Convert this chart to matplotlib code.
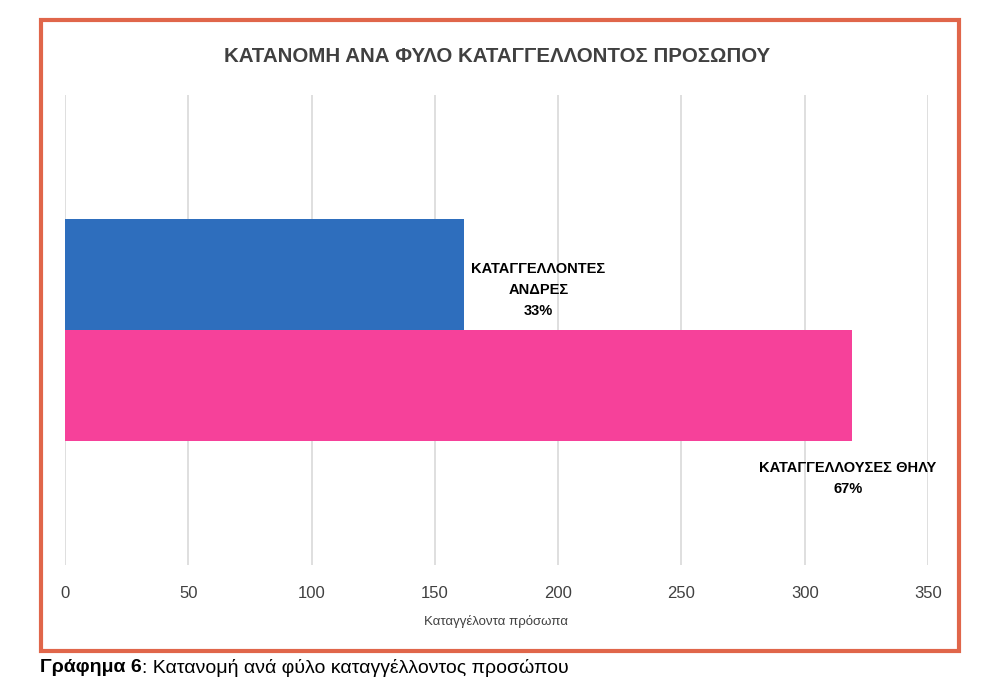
import matplotlib
matplotlib.use('Agg')
import matplotlib.pyplot as plt
from matplotlib.patches import Rectangle
from matplotlib import font_manager

# data
categories = ['ΚΑΤΑΓΓΕΛΛΟΝΤΕΣ\nΑΝΔΡΕΣ', 'ΚΑΤΑΓΓΕΛΛΟΥΣΕΣ ΘΗΛΥ']
values = [162, 319]
percents = ['33%', '67%']
xticks = [0, 50, 100, 150, 200, 250, 300, 350]

names = {f.name for f in font_manager.fontManager.ttflist}
fam = 'Liberation Sans Narrow' if 'Liberation Sans Narrow' in names else 'Liberation Sans'
plt.rcParams['font.family'] = [fam, 'DejaVu Sans']

W, H = 995, 695
fig = plt.figure(figsize=(W / 100, H / 100), dpi=100)

def fx(px):
    return px / W

def fy(py):
    return 1 - py / H

# orange frame
fig.patches.append(Rectangle((fx(41), fy(651)), fx(918), 631 / H, transform=fig.transFigure,
                             fill=False, edgecolor='#E0664A', linewidth=3))

ax = fig.add_axes([fx(65), fy(565), fx(863), 470 / H])
colors = ['#2E6EBD', '#F6419A']
ypos = [0.25, -0.25]
ax.barh(ypos, values, height=0.5, color=colors)
ax.set_xlim(0, 350)
ax.set_ylim(-1.0585, 1.0585)
ax.set_xticks(xticks)
ax.set_yticks([])
ax.grid(axis='x', color='#D9D9D9', linewidth=1.2)
ax.set_axisbelow(True)
for s in ax.spines.values():
    s.set_visible(False)
ax.tick_params(axis='x', length=0, pad=15, labelsize=12, labelcolor='#404040')
ax.set_xlabel('Καταγγέλοντα πρόσωπα', fontsize=9.5, color='#404040', labelpad=10)

# data labels
ax.text(values[0] + 30, 0.18, categories[0] + '\n' + percents[0], ha='center', va='center',
        fontsize=10.5, fontweight='bold', color='black', linespacing=1.65)
ax.text(values[1] - 1.5, -0.667, categories[1] + '\n' + percents[1], ha='center', va='center',
        fontsize=10.5, fontweight='bold', color='black', linespacing=1.65)

fig.text(0.5, fy(56), 'ΚΑΤΑΝΟΜΗ ΑΝΑ ΦΥΛΟ ΚΑΤΑΓΓΕΛΛΟΝΤΟΣ ΠΡΟΣΩΠΟΥ', ha='center', va='center',
         fontsize=14.8, fontweight='bold', color='#404040')

# caption under the frame
t = fig.text(fx(40), fy(668), 'Γράφημα 6', ha='left', va='center', fontsize=14, fontweight='bold')
fig.canvas.draw()
bb = t.get_window_extent()
fig.text(bb.x1 / W, fy(668), ': Κατανομή ανά φύλο καταγγέλλοντος προσώπου', ha='left', va='center',
         fontsize=14)

fig.savefig('out.png', dpi=100)
